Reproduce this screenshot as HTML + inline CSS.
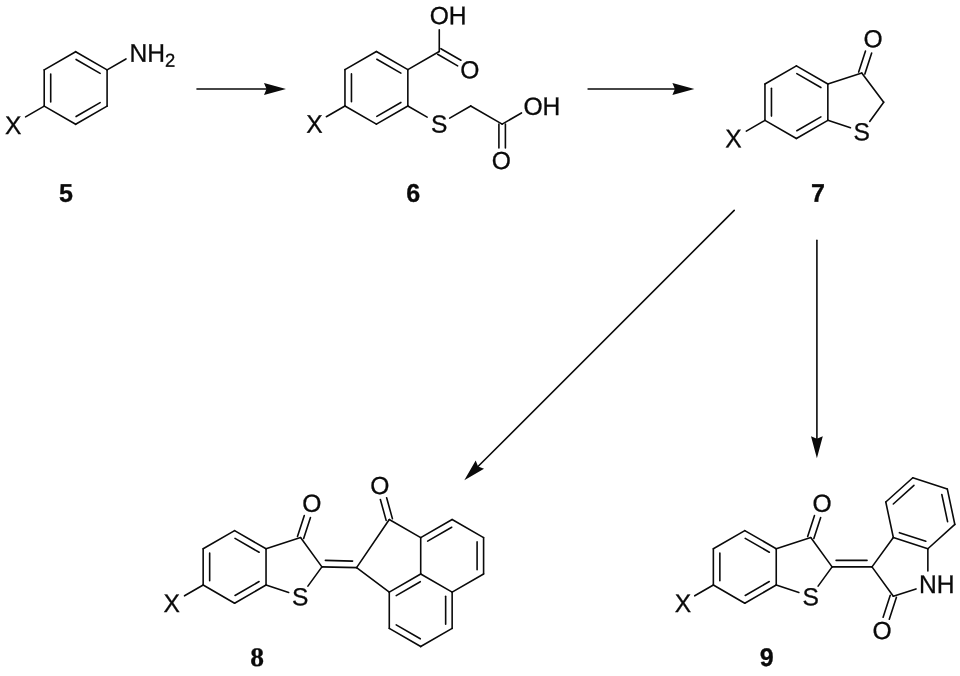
<!DOCTYPE html>
<html><head><meta charset="utf-8"><title>Scheme</title>
<style>
html,body{margin:0;padding:0;background:#fff;}
body{width:960px;height:676px;overflow:hidden;}
svg{display:block;will-change:transform;}
svg line{stroke:#0a0a0a;stroke-width:1.6;stroke-linecap:round;}
svg text{stroke:#0a0a0a;stroke-width:0.3px;font-family:"Liberation Sans",sans-serif;font-size:24.6px;fill:#0a0a0a;}
</style></head><body>
<svg width="960" height="676" viewBox="0 0 960 676">
<rect width="960" height="676" fill="#fff"/>
<g>
<line x1="75.65" y1="51.70" x2="107.09" y2="69.85"/>
<line x1="107.09" y1="69.85" x2="107.09" y2="106.15"/>
<line x1="107.09" y1="106.15" x2="75.65" y2="124.30"/>
<line x1="75.65" y1="124.30" x2="44.21" y2="106.15"/>
<line x1="44.21" y1="106.15" x2="44.21" y2="69.85"/>
<line x1="44.21" y1="69.85" x2="75.65" y2="51.70"/>
<line x1="76.08" y1="59.46" x2="100.15" y2="73.35"/>
<line x1="100.15" y1="102.65" x2="76.08" y2="116.54"/>
<line x1="50.71" y1="101.90" x2="50.71" y2="74.10"/>
<line x1="107.09" y1="69.85" x2="125.97" y2="58.95"/>
<line x1="44.21" y1="106.15" x2="25.59" y2="116.90"/>
<line x1="376.40" y1="51.50" x2="407.84" y2="69.65"/>
<line x1="407.84" y1="69.65" x2="407.84" y2="105.95"/>
<line x1="407.84" y1="105.95" x2="376.40" y2="124.10"/>
<line x1="376.40" y1="124.10" x2="344.96" y2="105.95"/>
<line x1="344.96" y1="105.95" x2="344.96" y2="69.65"/>
<line x1="344.96" y1="69.65" x2="376.40" y2="51.50"/>
<line x1="376.83" y1="59.26" x2="400.90" y2="73.15"/>
<line x1="400.90" y1="102.45" x2="376.83" y2="116.34"/>
<line x1="351.46" y1="101.70" x2="351.46" y2="73.90"/>
<line x1="407.84" y1="69.65" x2="439.27" y2="51.50"/>
<line x1="439.27" y1="51.50" x2="439.27" y2="29.70"/>
<line x1="437.65" y1="54.31" x2="457.65" y2="65.86"/>
<line x1="440.90" y1="48.69" x2="460.90" y2="60.24"/>
<line x1="407.84" y1="105.95" x2="427.15" y2="117.10"/>
<line x1="449.67" y1="118.10" x2="470.71" y2="105.95"/>
<line x1="470.71" y1="105.95" x2="502.15" y2="124.10"/>
<line x1="502.15" y1="124.10" x2="521.46" y2="112.95"/>
<line x1="498.90" y1="124.10" x2="498.90" y2="147.90"/>
<line x1="505.40" y1="124.10" x2="505.40" y2="147.90"/>
<line x1="344.96" y1="105.95" x2="326.34" y2="116.70"/>
<line x1="796.40" y1="65.90" x2="827.84" y2="84.05"/>
<line x1="827.84" y1="84.05" x2="827.84" y2="120.35"/>
<line x1="827.84" y1="120.35" x2="796.40" y2="138.50"/>
<line x1="796.40" y1="138.50" x2="764.96" y2="120.35"/>
<line x1="764.96" y1="120.35" x2="764.96" y2="84.05"/>
<line x1="764.96" y1="84.05" x2="796.40" y2="65.90"/>
<line x1="796.83" y1="73.66" x2="820.90" y2="87.55"/>
<line x1="820.90" y1="116.85" x2="796.83" y2="130.74"/>
<line x1="771.46" y1="116.10" x2="771.46" y2="88.30"/>
<line x1="764.96" y1="120.35" x2="746.34" y2="131.10"/>
<line x1="827.84" y1="84.05" x2="861.76" y2="73.07"/>
<line x1="861.76" y1="73.07" x2="883.70" y2="102.20"/>
<line x1="883.70" y1="102.20" x2="869.71" y2="121.45"/>
<line x1="827.84" y1="120.35" x2="850.47" y2="127.70"/>
<line x1="864.85" y1="74.08" x2="871.68" y2="53.06"/>
<line x1="858.67" y1="72.07" x2="865.50" y2="51.05"/>
<line x1="234.60" y1="530.60" x2="266.04" y2="548.75"/>
<line x1="266.04" y1="548.75" x2="266.04" y2="585.05"/>
<line x1="266.04" y1="585.05" x2="234.60" y2="603.20"/>
<line x1="234.60" y1="603.20" x2="203.16" y2="585.05"/>
<line x1="203.16" y1="585.05" x2="203.16" y2="548.75"/>
<line x1="203.16" y1="548.75" x2="234.60" y2="530.60"/>
<line x1="235.03" y1="538.36" x2="259.10" y2="552.25"/>
<line x1="259.10" y1="581.55" x2="235.03" y2="595.44"/>
<line x1="209.66" y1="580.80" x2="209.66" y2="553.00"/>
<line x1="203.16" y1="585.05" x2="184.54" y2="595.80"/>
<line x1="266.04" y1="548.75" x2="300.56" y2="537.53"/>
<line x1="300.56" y1="537.53" x2="321.90" y2="566.90"/>
<line x1="321.90" y1="566.90" x2="307.91" y2="586.15"/>
<line x1="266.04" y1="585.05" x2="288.67" y2="592.40"/>
<line x1="303.65" y1="538.54" x2="310.48" y2="517.52"/>
<line x1="297.47" y1="536.53" x2="304.30" y2="515.51"/>
<line x1="321.90" y1="566.90" x2="356.60" y2="567.60"/>
<line x1="325.40" y1="560.40" x2="352.60" y2="561.10"/>
<line x1="452.15" y1="519.50" x2="483.59" y2="537.65"/>
<line x1="483.59" y1="537.65" x2="483.59" y2="573.95"/>
<line x1="483.59" y1="573.95" x2="452.15" y2="592.10"/>
<line x1="452.15" y1="592.10" x2="420.71" y2="573.95"/>
<line x1="420.71" y1="573.95" x2="420.71" y2="537.65"/>
<line x1="420.71" y1="537.65" x2="452.15" y2="519.50"/>
<line x1="452.15" y1="592.10" x2="452.15" y2="628.40"/>
<line x1="452.15" y1="628.40" x2="420.71" y2="646.55"/>
<line x1="420.71" y1="646.55" x2="389.28" y2="628.40"/>
<line x1="389.28" y1="628.40" x2="389.28" y2="592.10"/>
<line x1="389.28" y1="592.10" x2="420.71" y2="573.95"/>
<line x1="427.65" y1="541.15" x2="451.72" y2="527.26"/>
<line x1="477.09" y1="541.90" x2="477.09" y2="569.70"/>
<line x1="396.21" y1="595.60" x2="420.28" y2="581.71"/>
<line x1="445.65" y1="596.35" x2="445.65" y2="624.15"/>
<line x1="420.28" y1="638.79" x2="396.21" y2="624.90"/>
<line x1="420.71" y1="537.65" x2="389.28" y2="519.50"/>
<line x1="389.28" y1="519.50" x2="356.60" y2="567.60"/>
<line x1="356.60" y1="567.60" x2="389.28" y2="592.10"/>
<line x1="392.41" y1="518.63" x2="386.63" y2="497.73"/>
<line x1="386.14" y1="520.37" x2="380.37" y2="499.46"/>
<line x1="744.80" y1="530.60" x2="776.24" y2="548.75"/>
<line x1="776.24" y1="548.75" x2="776.24" y2="585.05"/>
<line x1="776.24" y1="585.05" x2="744.80" y2="603.20"/>
<line x1="744.80" y1="603.20" x2="713.36" y2="585.05"/>
<line x1="713.36" y1="585.05" x2="713.36" y2="548.75"/>
<line x1="713.36" y1="548.75" x2="744.80" y2="530.60"/>
<line x1="745.23" y1="538.36" x2="769.30" y2="552.25"/>
<line x1="769.30" y1="581.55" x2="745.23" y2="595.44"/>
<line x1="719.86" y1="580.80" x2="719.86" y2="553.00"/>
<line x1="713.36" y1="585.05" x2="694.74" y2="595.80"/>
<line x1="776.24" y1="548.75" x2="810.76" y2="537.53"/>
<line x1="810.76" y1="537.53" x2="832.10" y2="566.90"/>
<line x1="832.10" y1="566.90" x2="818.11" y2="586.15"/>
<line x1="776.24" y1="585.05" x2="798.87" y2="592.40"/>
<line x1="813.85" y1="538.54" x2="820.68" y2="517.52"/>
<line x1="807.67" y1="536.53" x2="814.50" y2="515.51"/>
<line x1="832.10" y1="566.90" x2="872.00" y2="566.90"/>
<line x1="836.10" y1="560.40" x2="867.00" y2="560.40"/>
<line x1="872.00" y1="566.90" x2="893.34" y2="537.53"/>
<line x1="893.34" y1="537.53" x2="927.86" y2="548.75"/>
<line x1="927.86" y1="548.75" x2="927.86" y2="571.05"/>
<line x1="893.34" y1="596.27" x2="915.97" y2="588.91"/>
<line x1="872.00" y1="566.90" x2="893.34" y2="596.27"/>
<line x1="890.25" y1="595.26" x2="883.11" y2="617.23"/>
<line x1="896.43" y1="597.27" x2="889.29" y2="619.24"/>
<line x1="893.34" y1="537.53" x2="885.79" y2="502.03"/>
<line x1="885.79" y1="502.03" x2="912.77" y2="477.74"/>
<line x1="912.77" y1="477.74" x2="947.29" y2="488.95"/>
<line x1="947.29" y1="488.95" x2="954.84" y2="524.46"/>
<line x1="954.84" y1="524.46" x2="927.86" y2="548.75"/>
<line x1="899.39" y1="532.66" x2="925.82" y2="541.25"/>
<line x1="947.59" y1="521.65" x2="941.82" y2="494.47"/>
<line x1="913.95" y1="485.41" x2="893.30" y2="504.01"/>
<line x1="197.00" y1="89.00" x2="267.00" y2="89.00"/>
<polygon points="286.00,89.00 264.00,94.90 266.50,89.00 264.00,83.10" fill="#0a0a0a" stroke="none"/>
<line x1="588.10" y1="89.00" x2="675.40" y2="89.00"/>
<polygon points="694.40,89.00 672.40,94.90 674.90,89.00 672.40,83.10" fill="#0a0a0a" stroke="none"/>
<line x1="734.20" y1="210.40" x2="477.74" y2="466.77"/>
<polygon points="464.30,480.20 475.69,460.47 478.09,466.41 484.03,468.82" fill="#0a0a0a" stroke="none"/>
<line x1="816.90" y1="240.30" x2="816.90" y2="439.30"/>
<polygon points="816.90,458.30 811.00,436.30 816.90,438.80 822.80,436.30" fill="#0a0a0a" stroke="none"/>
</g>
<g>
<text transform="translate(129.44 61.64) rotate(0.03) scale(1 1.04)">N</text>
<text transform="translate(147.20 61.64) rotate(0.03) scale(1 1.04)">H</text>
<text transform="translate(164.97 66.76) rotate(0.03) scale(1 1.015)" style="font-size:18.45px">2</text>
<text transform="translate(5.02 134.04) rotate(0.03) scale(1 1.04)">X</text>
<text transform="translate(66.10 201.80) rotate(0.03) scale(1 1.015)" text-anchor="middle" style="font-weight:bold;font-size:25.1px;font-family:'Liberation Sans',sans-serif">5</text>
<text transform="translate(429.70 23.89) rotate(0.03) scale(1 1.0)">O</text>
<text transform="translate(448.84 24.14) rotate(0.03) scale(1 1.04)">H</text>
<text transform="translate(460.14 78.34) rotate(0.03) scale(1 1.0)">O</text>
<text transform="translate(431.07 132.39) rotate(0.03) scale(1 1.0)">S</text>
<text transform="translate(523.41 114.64) rotate(0.03) scale(1 1.0)">O</text>
<text transform="translate(542.55 114.89) rotate(0.03) scale(1 1.04)">H</text>
<text transform="translate(491.78 169.09) rotate(0.03) scale(1 1.0)">O</text>
<text transform="translate(306.32 132.84) rotate(0.03) scale(1 1.04)">X</text>
<text transform="translate(413.30 201.80) rotate(0.03) scale(1 1.015)" text-anchor="middle" style="font-weight:bold;font-size:25.1px;font-family:'Liberation Sans',sans-serif">6</text>
<text transform="translate(725.32 147.24) rotate(0.03) scale(1 1.04)">X</text>
<text transform="translate(853.46 140.26) rotate(0.03) scale(1 1.0)">S</text>
<text transform="translate(863.41 47.24) rotate(0.03) scale(1 1.0)">O</text>
<text transform="translate(818.00 201.80) rotate(0.03) scale(1 1.015)" text-anchor="middle" style="font-weight:bold;font-size:25.1px;font-family:'Liberation Sans',sans-serif">7</text>
<text transform="translate(163.52 611.94) rotate(0.03) scale(1 1.04)">X</text>
<text transform="translate(291.96 605.36) rotate(0.03) scale(1 1.0)">S</text>
<text transform="translate(302.21 511.70) rotate(0.03) scale(1 1.0)">O</text>
<text transform="translate(370.23 493.89) rotate(0.03) scale(1 1.0)">O</text>
<text transform="translate(257.15 666.00) rotate(0.03) scale(1 0.975)" text-anchor="middle" style="font-weight:bold;font-size:27.5px;font-family:'Liberation Serif',serif">8</text>
<text transform="translate(674.72 611.94) rotate(0.03) scale(1 1.04)">X</text>
<text transform="translate(802.56 605.36) rotate(0.03) scale(1 1.0)">S</text>
<text transform="translate(812.41 511.70) rotate(0.03) scale(1 1.0)">O</text>
<text transform="translate(918.98 592.99) rotate(0.03) scale(1 1.04)">N</text>
<text transform="translate(936.74 592.99) rotate(0.03) scale(1 1.04)">H</text>
<text transform="translate(872.55 639.08) rotate(0.03) scale(1 1.0)">O</text>
<text transform="translate(766.80 666.00) rotate(0.03) scale(1 1.015)" text-anchor="middle" style="font-weight:bold;font-size:25.1px;font-family:'Liberation Sans',sans-serif">9</text>
</g>
</svg>
</body></html>
